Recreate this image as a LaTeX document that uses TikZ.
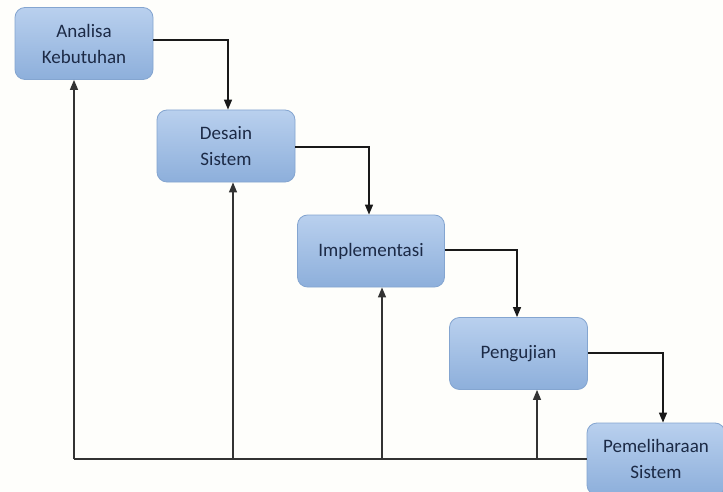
\documentclass[tikz,border=0pt]{standalone}
\usepackage{fontspec}
\setmainfont{Carlito}
\usetikzlibrary{arrows.meta,calc}
\definecolor{boxtop}{HTML}{B9D0EE}
\definecolor{boxbot}{HTML}{8DAFDB}
\definecolor{boxline}{HTML}{84A5D0}
\definecolor{txt}{HTML}{1C2A46}
\definecolor{bg}{HTML}{FEFEFB}
\tikzset{
  stage/.style={rectangle, rounded corners=10pt, draw=boxline, line width=0.8pt,
    top color=boxtop, bottom color=boxbot, minimum width=138pt, minimum height=72pt,
    align=center, text=txt, font=\fontsize{19}{26}\selectfont, inner sep=2pt},
  flow/.style={draw=black!90, line width=1.4pt, -{Triangle[length=10pt,width=8pt]}},
  fb/.style={draw=black!80, line width=1.3pt},
  fbarrow/.style={fb, -{Triangle[length=10pt,width=8pt]}}
}
\begin{document}
\begin{tikzpicture}[x=1pt,y=-1pt]
\fill[bg] (0,0) rectangle (723,492);
\useasboundingbox (0,0) rectangle (723,492);
\node[stage] (b1) at (84,43.5) {Analisa\\Kebutuhan};
\node[stage] (b2) at (226,146) {Desain\\Sistem};
\node[stage, minimum width=147pt] (b3) at (371,251) {Implementasi};
\node[stage] (b4) at (518.5,353.5) {Pengujian};
\node[stage] (b5) at (656,459) {Pemeliharaan\\Sistem};
% forward flow
\coordinate (k1) at (228,40);
\coordinate (k2) at (369,147);
\coordinate (k3) at (517,250);
\coordinate (k4) at (663,353);
\draw[flow] (b1.east |- k1) -- (k1) -- (k1 |- b2.north);
\draw[flow] (b2.east |- k2) -- (k2) -- (k2 |- b3.north);
\draw[flow] (b3.east |- k3) -- (k3) -- (k3 |- b4.north);
\draw[flow] (b4.east |- k4) -- (k4) -- (k4 |- b5.north);
% feedback
\coordinate (j1) at (74,459);
\coordinate (j2) at (233,459);
\coordinate (j3) at (382,459);
\coordinate (j4) at (537,459);
\draw[fb] (b5.west) -- (j1);
\draw[fbarrow] (j1) -- (j1 |- b1.south);
\draw[fbarrow] (j2) -- (j2 |- b2.south);
\draw[fbarrow] (j3) -- (j3 |- b3.south);
\draw[fbarrow] (j4) -- (j4 |- b4.south);
\end{tikzpicture}
\end{document}
